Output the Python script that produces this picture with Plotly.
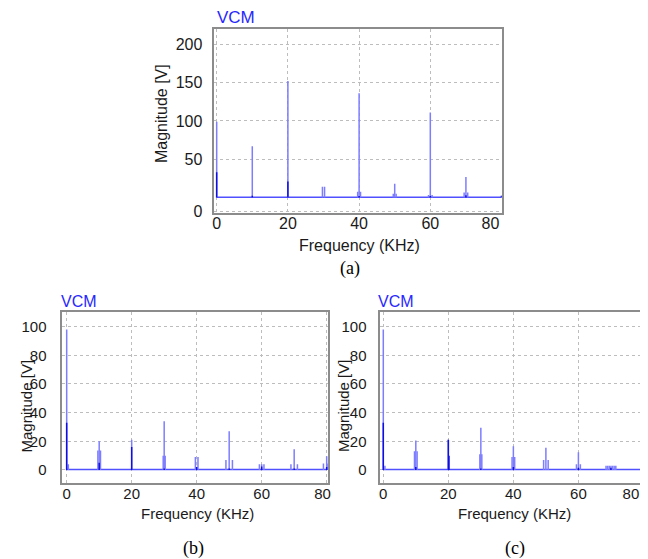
import plotly.graph_objects as go

# spectrum components: (frequency kHz, magnitude V)
a_freq = [0, 10, 20, 29.7, 30.3, 40, 39.6, 40.4, 50, 49.6, 50.4, 60, 59.5, 60.5, 70, 69.5, 70.5, 80]
a_mag = [99, 67, 152, 14, 14, 136, 7.5, 7.5, 18, 5, 5, 111, 3.5, 3.5, 27, 6.5, 6.5, 3]
a_dark_freq = [0, 10, 20, 40, 60, 70, 80]
a_dark_mag = [33, 2.5, 21, 2, 2, 3, 2]

b_freq = [0, 0.5, 10, 9.6, 10.4, 20, 30, 29.7, 30.3, 39.6, 40.4, 50, 49, 51, 60, 59.3, 60.7, 70, 69, 71, 80, 79, 80.4]
b_mag = [98, 4, 20, 13.5, 13.5, 21, 34, 10, 10, 9, 9, 27, 7, 7, 4, 4, 4, 14.5, 4, 4, 9.5, 4.5, 4.5]
b_dark_freq = [0, 10, 20, 30, 40, 50, 60, 70, 80]
b_dark_mag = [33, 5, 16, 1, 2, 1, 2.5, 1, 2]

c_freq = [0, 0.5, 10, 9.6, 10.4, 20, 30, 29.7, 30.3, 40, 39.6, 40.4, 50, 49.3, 50.7, 60, 59.4, 60.6,
          68.5, 69, 69.5, 70, 70.5, 71, 71.5, 80, 79.2, 80.6]
c_mag = [98, 3, 20.5, 13, 13, 21, 29.5, 11, 11, 16.5, 9, 9, 15.5, 7, 7, 12.3, 4, 4,
         3, 3, 3, 3, 3, 3, 3, 9.3, 4.5, 4.5]
c_dark_freq = [0, 10, 20, 20.2, 30, 40, 60, 70, 80]
c_dark_mag = [33, 2, 21, 10, 1, 2, 1.5, 1.5, 2]

noise_floor = 0.4
freq_span = [0, 80]

freq_ticks = [0, 20, 40, 60, 80]
nb = "\u00a0"
a_freq_labels = ["0", "20", "40", "60", "80" + nb * 5]
b_freq_labels = ["0", "20", "40", "60", "80" + nb * 2]
c_freq_labels = ["0", "20", "40", "60", "80" + nb * 6]
a_mag_ticks = [-18, 50, 100, 150, 200]
a_mag_labels = ["0", "50", "100", "150", "200"]
bc_mag_ticks = [0, 20, 40, 60, 80, 100]

light = "rgb(125,125,255)"
dark = "rgb(15,15,225)"
base = "rgb(80,80,255)"

# the page puts the figure 8px in from the top-left corner
W, H, OFF = 640, 551, 8


def px(x):
    return (x - OFF) / W


def py(y):
    return 1 - (y - OFF) / H


def spikes(freq, mag):
    xs, ys = [], []
    for f, m in zip(freq, mag):
        xs += [f, f, None]
        ys += [0, m, None]
    return xs, ys


fig = go.Figure()
panels = [("x", "y", a_freq, a_mag, a_dark_freq, a_dark_mag),
          ("x2", "y2", b_freq, b_mag, b_dark_freq, b_dark_mag),
          ("x3", "y3", c_freq, c_mag, c_dark_freq, c_dark_mag)]
for xa, ya, fq, mg, dfq, dmg in panels:
    fig.add_trace(go.Scatter(x=freq_span, y=[noise_floor, noise_floor], mode="lines",
                             line=dict(color=base, width=1.5), xaxis=xa, yaxis=ya,
                             showlegend=False, hoverinfo="skip"))
    xs, ys = spikes(fq, mg)
    fig.add_trace(go.Scatter(x=xs, y=ys, mode="lines", line=dict(color=light, width=1.5),
                             xaxis=xa, yaxis=ya, showlegend=False))
    xs, ys = spikes(dfq, dmg)
    fig.add_trace(go.Scatter(x=xs, y=ys, mode="lines", line=dict(color=dark, width=1.5),
                             xaxis=xa, yaxis=ya, showlegend=False))

font = "Liberation Sans, Arial, sans-serif"


def ax(size, standoff, **kw):
    d = dict(showline=True, mirror=True, linecolor="#8c8c8c", linewidth=1.5,
             showgrid=True, gridcolor="#bdbdbd", griddash="dot", gridwidth=1,
             zeroline=False, ticks="", ticklen=0, ticklabelstandoff=standoff,
             automargin=False, ticklabeloverflow="allow",
             tickfont=dict(family=font, size=size, color="#1a1a1a"))
    d.update(kw)
    return d


fig.update_layout(
    width=W, height=H, margin=dict(l=0, r=0, t=0, b=0, autoexpand=False),
    paper_bgcolor="white", plot_bgcolor="white",
    xaxis=ax(16, -5, domain=[px(214.3), px(501.7)], range=[-0.67, 80.05],
             tickvals=freq_ticks, ticktext=a_freq_labels, anchor="y"),
    yaxis=ax(16, 7, domain=[py(212.7), py(29.3)], range=[-19.7, 219.6],
             tickvals=a_mag_ticks, ticktext=a_mag_labels, anchor="x"),
    xaxis2=ax(15, -4, domain=[px(62.3), px(328.3)], range=[-1.35, 80.5],
              tickvals=freq_ticks, ticktext=b_freq_labels, anchor="y2"),
    yaxis2=ax(15, 11, domain=[py(483.3), py(312.3)], range=[-9.3, 110], tickvals=bc_mag_ticks, anchor="x2"),
    xaxis3=ax(15, -4, domain=[px(380.3), px(646.7)], range=[-0.92, 81],
              tickvals=freq_ticks, ticktext=c_freq_labels, anchor="y3"),
    yaxis3=ax(15, 9, domain=[py(483.3), py(312.3)], range=[-9.3, 110], tickvals=bc_mag_ticks, anchor="x3"),
)

ann = []
for x, y, s in [(215, 17.5, 17), (59, 301, 16), (376, 301, 16)]:
    ann.append(dict(x=px(x), y=py(y), text="VCM", xanchor="left", yanchor="middle",
                    font=dict(family=font, size=s, color="rgb(40,40,255)")))
for x, y, s in [(161.7, 113.3, 16), (26.7, 405.8, 15), (343.3, 405.8, 15)]:
    ann.append(dict(x=px(x), y=py(y), text="Magnitude [V]", textangle=-90, xanchor="center", yanchor="middle",
                    font=dict(family=font, size=s, color="#1a1a1a")))
for x, y, s in [(359, 245, 16), (197.5, 513.3, 15), (514, 513.3, 15)]:
    ann.append(dict(x=px(x), y=py(y), text="Frequency (KHz)", xanchor="center", yanchor="middle",
                    font=dict(family=font, size=s, color="#1a1a1a")))
for x, y, t in [(350, 268, "(a)"), (193.3, 548, "(b)"), (515, 548, "(c)")]:
    ann.append(dict(x=px(x), y=py(y), text=t, xanchor="center", yanchor="middle",
                    font=dict(family="Liberation Serif, Times New Roman, serif", size=18, color="black")))
for a in ann:
    a.update(xref="paper", yref="paper", showarrow=False)
fig.update_layout(annotations=ann)

fig.write_html("out.html")
